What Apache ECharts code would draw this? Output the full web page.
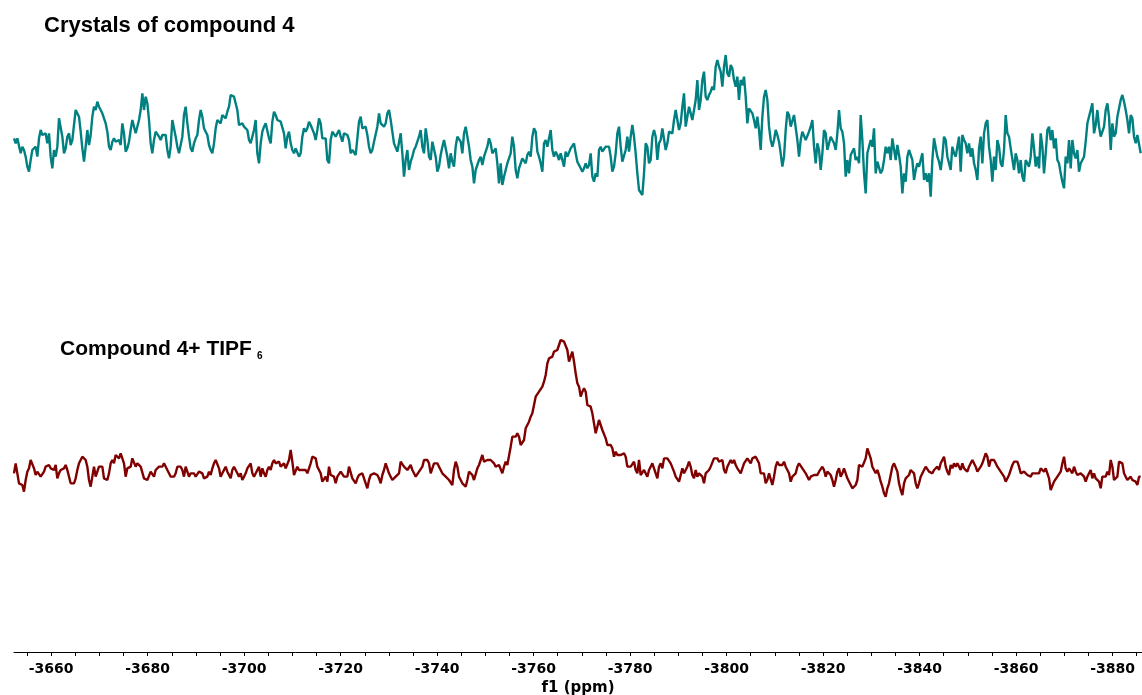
<!DOCTYPE html>
<html>
<head>
<meta charset="utf-8">
<script src="https://cdn.jsdelivr.net/npm/echarts@6/dist/echarts.min.js"></script>
<style>
  html, body { margin: 0; padding: 0; background: #ffffff; }
  #chart { width: 1142px; height: 695px; }
</style>
</head>
<body>
<div id="chart"></div>
<script>
// Chemical-shift grid of the spectra (ppm): first point and spacing between points
const ppmStart = -3652.3;
const ppmStep = -0.34546;
const xMin = -3886.1;
const xMax = -3652.3;

// Axis labels and ticks (ppm)
const tickLabels = [-3660, -3680, -3700, -3720, -3740, -3760, -3780, -3800, -3820, -3840, -3860, -3880];
const tickMarks = [-3655, -3660, -3665, -3670, -3675, -3680, -3685, -3690, -3695, -3700, -3705, -3710, -3715, -3720,
  -3725, -3730, -3735, -3740, -3745, -3750, -3755, -3760, -3765, -3770, -3775, -3780, -3785, -3790, -3795, -3800,
  -3805, -3810, -3815, -3820, -3825, -3830, -3835, -3840, -3845, -3850, -3855, -3860, -3865, -3870, -3875, -3880, -3885];

const seriesNames = ["Crystals of compound 4", "Compound 4+ TIPF6"];

// Intensities (a.u.) of the upper spectrum: crystals of compound 4
const crystalsIntensity = [
85,70,85,80,40,60,50,30,0,-15,
20,50,55,60,30,85,110,95,90,100,
70,100,30,-5,50,30,60,145,145,90,
40,55,90,100,65,80,125,170,165,150,
105,55,15,60,110,65,95,150,180,170,
195,180,175,160,145,130,105,60,50,75,
85,75,80,80,65,130,100,45,55,75,
110,140,135,100,95,140,170,220,170,210,
190,140,70,40,80,105,110,90,80,95,
100,95,50,25,60,140,135,90,60,40,
45,90,155,180,130,90,55,45,70,85,
95,140,170,150,115,105,95,65,50,40,
70,115,140,135,130,155,150,145,165,180,
215,215,210,205,170,125,130,130,120,120,
110,80,70,70,110,140,40,10,70,105,
120,130,125,85,70,135,165,155,140,135,
135,130,100,55,90,105,70,50,40,55,
60,30,40,90,115,105,115,135,125,125,
100,80,110,145,130,85,90,85,20,10,
80,105,100,90,95,110,90,75,100,100,
95,80,40,50,50,35,85,135,150,115,
110,120,95,60,40,50,75,80,120,160,
130,125,120,130,160,170,140,105,70,70,
45,40,
100,40,-30,20,50,-10,15,30,50,60,
65,90,110,60,40,115,80,30,20,75,
70,30,-15,0,35,60,80,55,30,-5,
40,15,0,60,90,95,75,40,100,120,
90,60,20,0,-50,-10,-5,20,30,5,
30,45,60,85,70,40,45,55,10,-50,
10,-55,-30,-10,10,10,40,90,60,-10,
-35,-5,10,25,30,10,35,45,30,90,
115,105,45,30,10,-15,70,80,60,85,
110,50,30,45,35,20,40,20,0,45,
30,30,55,50,70,40,15,10,-5,-15,
-5,10,-5,5,40,-30,-45,-20,-30,50,
60,45,45,60,65,60,30,-15,0,40,
100,120,60,15,20,50,90,45,90,125,
90,40,-20,-70,-75,-85,-20,70,60,10,
20,90,110,90,20,70,80,115,115,50,
70,105,100,100,140,170,175,110,130,180,
220,120,125,180,160,140,145,200,260,170,
200,260,285,210,200,215,225,240,230,300,
320,300,285,240,300,335,280,270,305,295,
260,240,270,200,260,245,270,210,130,175,
180,160,140,115,150,110,
50,150,210,230,200,120,80,60,80,110,
95,75,40,0,30,110,165,155,120,125,
155,150,80,30,80,105,110,80,75,105,
120,140,60,10,70,50,-10,40,110,100,
50,55,90,85,70,50,100,170,115,105,
70,-30,20,-20,35,30,55,20,30,10,
155,80,-20,-80,40,45,80,60,115,-20,
15,10,-20,-10,20,60,40,60,20,85,
90,20,65,35,0,-80,-20,-45,30,50,
45,20,-40,-10,10,0,20,40,-40,-20,
-45,-20,-90,20,85,90,30,15,-10,30,
90,80,30,10,-10,60,40,30,60,90,
-15,95,80,70,40,70,30,55,10,-10,
-40,55,90,10,100,130,140,60,20,-45,
30,-10,80,60,10,0,50,155,100,90,
55,60,-10,40,20,-20,20,-30,-45,20,
10,0,30,100,55,0,30,-5,100,60,
-20,40,110,120,80,110,55,85,20,10,
-20,-45,-65,30,10,80,-5,80,40,25,
50,-15,10,20,30,75,130,135,170,190,
100,125,170,120,90,85,120,170,190,150,
50,130,90,100,150,145,200,215,195,170,
140,100,155,145,90,70,95,90,40
];

// Intensities (a.u.) of the lower spectrum: compound 4 + TIPF6
const tipfIntensity = [
40,70,75,10,10,5,-15,20,45,55,
80,75,55,35,45,40,30,30,45,60,
60,65,55,60,50,65,25,40,50,55,
55,65,50,45,10,15,10,25,50,70,
80,90,95,80,60,20,0,30,60,30,
35,60,55,60,25,25,20,40,70,80,
70,95,100,85,100,100,70,30,55,50,
60,85,85,60,70,65,60,55,25,20,
20,25,45,40,30,50,50,60,60,60,
70,65,50,40,30,30,30,40,60,65,
60,50,30,60,55,30,40,45,40,30,
25,45,40,40,25,20,30,45,35,55,
70,80,75,55,30,40,35,60,45,40,
25,50,60,55,40,30,40,20,30,40,
55,60,70,40,30,25,50,60,30,55,
40,30,50,60,50,70,80,70,70,75,
60,55,70,55,60,80,110,75,35,35,
60,50,55,50,55,50,40,45,70,90,
90,85,60,55,40,15,15,30,15,60,
35,35,30,10,30,25,45,50,30,25,
30,60,55,25,20,10,25,35,35,40,
35,10,-5,20,35,35,40,35,35,25,
10,35,50,70,75,40,30,20,15,30,
25,40,
75,80,60,60,50,55,65,50,40,30,
35,45,40,60,80,85,80,70,40,35,
70,75,70,60,55,40,45,30,25,20,
20,5,50,75,60,30,20,10,5,0,
20,45,50,35,20,25,55,65,80,95,
75,75,80,75,80,85,70,60,55,65,
60,40,60,75,65,70,120,150,155,150,
160,150,125,120,140,175,180,195,210,220,
245,270,270,285,285,300,315,335,370,385,
385,390,405,410,410,425,440,445,435,440,
410,375,390,405,375,340,310,300,270,285,
295,285,245,240,240,220,190,160,180,200,
195,170,170,145,125,120,125,115,90,105,
95,100,95,90,100,90,60,55,60,55,
75,50,40,80,35,40,50,50,30,50,
60,70,55,55,25,60,70,55,85,90,
85,80,70,65,45,30,25,15,35,55,
40,50,60,75,60,35,25,50,30,40,
45,30,10,40,45,50,60,65,85,80,
85,75,70,80,50,40,60,65,80,70,
80,65,55,60,40,55,70,75,85,80,
70,85,90,90,95,70,
40,45,40,10,20,40,45,5,30,60,
75,65,70,65,75,60,50,40,15,30,
30,40,60,70,75,55,50,40,35,20,
30,30,35,40,35,45,40,60,50,30,
45,45,35,20,0,20,45,55,30,40,
55,40,25,20,5,-5,0,5,20,65,
70,60,60,85,115,115,85,60,50,40,
50,35,15,0,-20,-30,-5,10,35,60,
70,65,45,10,-10,-25,10,25,20,35,
50,55,40,10,-5,10,30,25,50,60,
60,45,40,40,50,55,60,50,70,80,
90,60,45,35,65,55,70,60,70,75,
50,70,55,50,45,60,70,80,85,60,
45,40,60,70,75,100,90,60,80,85,
80,70,60,55,45,40,30,15,20,35,
50,65,75,80,75,60,40,35,45,40,
35,40,30,40,40,40,45,40,55,60,
45,55,40,25,-10,-10,15,20,30,35,
45,70,90,55,45,55,50,40,60,45,
35,35,40,40,30,15,30,40,50,25,
40,25,20,15,-5,30,30,30,45,35,
80,60,20,15,30,75,80,70,40,30,
20,15,30,20,20,15,5,30,30
];

function toPairs(values) {
  return values.map(function (v, i) { return [ppmStart + i * ppmStep, v]; });
}

const chart = echarts.init(document.getElementById('chart'), null, { renderer: 'canvas' });

const option = {
  animation: false,
  backgroundColor: '#ffffff',
  grid: { left: 14, right: 0, top: 0, bottom: 43, containLabel: false, outerBoundsMode: 'none' },
  xAxis: {
    type: 'value',
    inverse: true,
    min: xMin,
    max: xMax,
    name: 'f1 (ppm)',
    nameLocation: 'middle',
    nameGap: 26,
    nameTextStyle: { fontFamily: 'DejaVu Sans', fontWeight: 'bold', fontSize: 15, color: '#000' },
    axisLine: { show: true, onZero: false, lineStyle: { color: '#000', width: 1 } },
    axisTick: { show: true, inside: false, length: 4, customValues: tickMarks, lineStyle: { color: '#000', width: 1 } },
    axisLabel: {
      show: true, customValues: tickLabels, margin: 10,
      fontFamily: 'DejaVu Sans', fontWeight: 'bold', fontSize: 14, color: '#000',
      formatter: function (v) { return String(v); }
    },
    splitLine: { show: false }
  },
  yAxis: [
    { type: 'value', min: -496, max: 1460, show: false, splitLine: { show: false } },
    { type: 'value', min: -1456, max: 500, show: false, splitLine: { show: false } }
  ],
  graphic: [
    { type: 'text', x: 44, y: 26, style: { text: 'Crystals of compound 4', font: 'bold 22px "Liberation Sans"', fill: '#000', verticalAlign: 'middle' } },
    { type: 'text', x: 60, y: 349, style: { text: 'Compound 4+ TIPF', font: 'bold 21px "Liberation Sans"', fill: '#000', verticalAlign: 'middle' } },
    { type: 'text', x: 257, y: 356, style: { text: '6', font: 'bold 10px "Liberation Sans"', fill: '#000', verticalAlign: 'middle' } }
  ],
  series: [
    {
      name: seriesNames[0], type: 'line', yAxisIndex: 1, data: toPairs(crystalsIntensity),
      showSymbol: false, symbol: 'none', sampling: 'none', smooth: false,
      lineStyle: { color: '#008080', width: 2.4 }, z: 3
    },
    {
      name: seriesNames[1], type: 'line', yAxisIndex: 0, data: toPairs(tipfIntensity),
      showSymbol: false, symbol: 'none', sampling: 'none', smooth: false,
      lineStyle: { color: '#800000', width: 2.4 }, z: 3
    }
  ]
};
chart.setOption(option);
</script>
</body>
</html>
